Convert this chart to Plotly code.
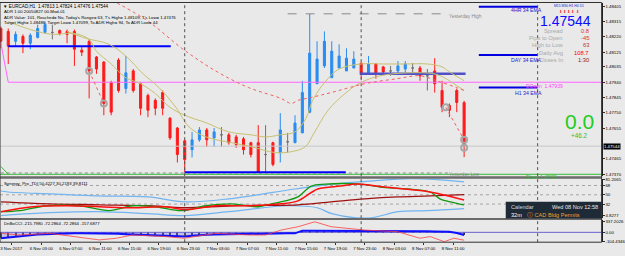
import plotly.graph_objects as go

W, H = 625, 256

# ---------------- main price data (EURCAD H1) ----------------
bar_index = list(range(64))
opens = [1.48271,1.48253,1.48192,1.48222,1.48180,1.48216,1.48247,1.48247,1.48259,1.48253,
         1.48253,1.48137,1.48192,1.48095,1.48064,1.47936,1.48076,1.47900,1.48009,1.47930,
         1.47857,1.47827,1.47875,1.47717,1.47656,1.47577,1.47522,1.47583,1.47644,1.47595,
         1.47614,1.47614,1.47601,1.47589,1.47565,1.47565,1.47492,1.47565,1.47504,1.47571,
         1.47565,1.47626,1.47754,1.47930,1.48040,1.47967,1.48027,1.48009,1.48027,1.48058,
         1.47997,1.48052,1.48034,1.48009,1.48009,1.48021,1.48027,1.48027,1.47979,1.48009,
         1.47888,1.47796,1.47888,1.47813]
highs = [1.48283,1.48271,1.48253,1.48235,1.48241,1.48295,1.48314,1.48295,1.48265,1.48265,
         1.48265,1.48162,1.48204,1.48101,1.48070,1.47948,1.48088,1.48101,1.48021,1.47936,
         1.47869,1.47839,1.47888,1.47723,1.47662,1.47583,1.47632,1.47662,1.47656,1.47656,
         1.47662,1.47626,1.47614,1.47601,1.47571,1.47674,1.47674,1.47571,1.47748,1.47626,
         1.47735,1.47948,1.48362,1.48192,1.48253,1.48192,1.48174,1.48149,1.48131,1.48058,
         1.48101,1.48058,1.48040,1.48040,1.48070,1.48070,1.48058,1.48040,1.48021,1.48088,
         1.47948,1.47808,1.47900,1.47824]
lows = [1.48149,1.48052,1.48162,1.48119,1.48143,1.48210,1.48241,1.48204,1.48229,1.48180,
        1.48040,1.48101,1.47839,1.47991,1.47735,1.47735,1.47875,1.47869,1.47875,1.47735,
        1.47723,1.47735,1.47735,1.47583,1.47443,1.47382,1.47474,1.47571,1.47540,1.47540,
        1.47540,1.47553,1.47534,1.47492,1.47474,1.47378,1.47382,1.47419,1.47443,1.47504,
        1.47565,1.47626,1.47748,1.47930,1.48027,1.47967,1.48027,1.48009,1.48027,1.47961,
        1.47991,1.47961,1.47991,1.47979,1.47991,1.47991,1.47997,1.47948,1.47888,1.47875,
        1.47754,1.47723,1.47754,1.47476]
closes = [1.48192,1.48162,1.48235,1.48180,1.48229,1.48271,1.48295,1.48247,1.48241,1.48235,
          1.48143,1.48125,1.48009,1.48021,1.47808,1.47754,1.47888,1.47997,1.47888,1.47778,
          1.47766,1.47778,1.47778,1.47595,1.47492,1.47461,1.47583,1.47644,1.47583,1.47632,
          1.47614,1.47565,1.47553,1.47522,1.47492,1.47382,1.47492,1.47431,1.47644,1.47571,
          1.47687,1.47875,1.48119,1.48082,1.48192,1.48131,1.48101,1.48088,1.48082,1.47997,
          1.48052,1.47997,1.48003,1.48009,1.48040,1.48052,1.48027,1.47979,1.47979,1.47930,
          1.47784,1.47766,1.47814,1.47544]
gray_bars = [7, 30, 36, 39, 53, 56, 58]

# moving averages (bar, price)
ma_fast_bars = [1, 4, 7, 10, 12, 13, 15, 17, 19, 21, 23, 25, 28, 31, 34, 36, 38, 40, 41.5, 42.4, 44, 46, 49, 52, 55, 58, 60, 61, 63]
ma_fast_vals = [1.48314, 1.48265, 1.48235, 1.48241, 1.48204, 1.48131, 1.48052, 1.47967, 1.47930, 1.47869, 1.47784,
                1.47735, 1.47687, 1.47632, 1.47614, 1.47601, 1.47614, 1.47632, 1.47717, 1.47827, 1.47936, 1.48021,
                1.48052, 1.48052, 1.48052, 1.48052, 1.48034, 1.48003, 1.47948]
ma_slow_bars = [9, 11.6, 14.7, 17, 19.2, 21.5, 23.8, 25.6, 27.9, 31.4, 34.1, 37.3, 39.5, 41.4, 42.6, 44.5, 46.8,
                48.9, 51.6, 55.3, 58.9, 60.3, 62, 63]
ma_slow_vals = [1.48253, 1.48210, 1.48174, 1.48101, 1.47997, 1.47906, 1.47784, 1.47662, 1.47601, 1.47565, 1.47540,
                1.47504, 1.47510, 1.47540, 1.47626, 1.47766, 1.47869, 1.47936, 1.47979, 1.47997, 1.47991, 1.47967,
                1.47918, 1.47888]
ma_long_bars = [15.8, 20.1, 24.6, 29.2, 33.7, 38.1, 39.5, 40.4, 42.2, 44.9, 49.5, 53.9, 57, 59.3, 62, 63]
ma_long_vals = [1.48429, 1.48314, 1.48149, 1.48009, 1.47906, 1.47839, 1.47808, 1.47827, 1.47845, 1.47875, 1.47930,
                1.47961, 1.47979, 1.47948, 1.47906, 1.47888]

# swing points (zigzag)
swing_bars = [12, 14, 60.5, 63, 63]
swing_vals = [1.48009, 1.47808, 1.47784, 1.47583, 1.47534]

# levels
daily_open = 1.47939
yest_high = 1.48362
yest_low = 1.47378
green_level = 1.47370
bid = 1.47544
ema_4h, ema_day, ema_h1 = 1.48405, 1.48107, 1.47906
session_hi = 1.48162
session_lo = 1.47382
range_mid = 1.47991

price_ticks = [1.48405, 1.48315, 1.48220, 1.48125, 1.48035, 1.47940, 1.47845, 1.47750, 1.47655, 1.47465, 1.47370]

time_ticks = [1.4, 5.5, 9.5, 13.5, 17.5, 21.5, 25.5, 29.5, 33.5, 37.5, 41.5, 45.5, 49.5, 53.5, 57.5, 61.5]
time_labels = ["3 Nov 2017", "6 Nov 03:00", "6 Nov 07:00", "6 Nov 11:00", "6 Nov 15:00", "6 Nov 19:00",
               "6 Nov 23:00", "7 Nov 03:00", "7 Nov 07:00", "7 Nov 11:00", "7 Nov 15:00", "7 Nov 19:00",
               "7 Nov 23:00", "8 Nov 03:00", "8 Nov 07:00", "8 Nov 11:00"]
day_sep_bars = [25, 49, 73]

# ---------------- Synergy TDI ----------------
tdi_up_bars = [0, 1, 7, 13, 20, 25, 31, 40, 45, 50, 56, 63]
tdi_up_vals = [57.3, 55.4, 51.6, 47.8, 45.9, 36.3, 42.1, 61.2, 70.7, 76.4, 81.2, 75.1]
tdi_lo_bars = [0, 4, 13, 20, 25, 31, 39, 43, 45, 50, 54, 58, 63]
tdi_lo_vals = [9.6, 13.4, 17.2, 13.4, 9.6, 17.2, 28.7, 24.9, 13.4, 4.83, 17.2, 19.2, 23.0]
tdi_green_bars = [0, 2.6, 6.2, 10.7, 14.7, 17.9, 21.1, 24.6, 27.9, 31.4, 35, 36.8, 38.7, 40.4, 42.2, 44.1, 48.9,
                  51.6, 55.3, 58.4, 59.7, 61.1, 63]
tdi_green_vals = [17.2, 19.2, 28.7, 28.7, 19.2, 28.7, 26.8, 19.2, 28.7, 32.5, 26.8, 32.5, 38.2, 45.9, 66.9, 70.7,
                  70.7, 65.0, 61.2, 55.4, 42.1, 36.3, 30.22]
tdi_red_bars = [0, 4.3, 8.9, 13.4, 17.9, 22.4, 25.1, 29.2, 33.7, 38.1, 40.4, 43.1, 46.2, 48.5, 52.2, 57.6, 59.7, 63]
tdi_red_vals = [17.2, 26.8, 28.7, 26.8, 24.9, 26.8, 21.1, 28.7, 28.7, 32.5, 38.2, 61.2, 66.9, 70.7, 65.0, 57.3,
                51.6, 39.81]
tdi_base_bars = [0, 6.6, 13.4, 20.2, 24.9, 31.4, 40.4, 44.9, 49.5, 53.9, 58.4, 63]
tdi_base_vals = [36.3, 32.5, 30.6, 28.7, 24.9, 28.7, 30.6, 36.3, 42.1, 45.9, 47.8, 50.42]
tdi_levels = [68, 50, 32]

# ---------------- CCI pane ----------------
cci_blue = [-162, -140, -116, -100, -73, -60, -50, -40, -30, -27, -27, -27, -27, -27, -30, -35,
            -40, -50, -60, -70, -80, -90, -100, -108, -116, -116, -95, -73, -65, -60, -55, -50,
            -45, -40, -38, -35, -33, -31, -30, -28, -27, 46, 46, 46, 46, 46, 46, 46,
            46, 46, 46, 46, 46, 46, 46, 46, 40, 35, 30, 25, 22, 19, -20, -72.29]
cci_red_bars = [0, 2.6, 6.6, 10.3, 13.4, 15.7, 17.9, 22.4, 24.9, 29.2, 33.7, 36, 38.1, 40.4, 42.7, 44.9, 49.5,
                53.9, 57, 58.4, 60.3, 61.6, 63]
cci_red_vals = [-27, -73, -27, -116, -208, -162, -73, -116, -162, -27, -73, -73, 62, 154, 289, 154, 62, 19, -162,
                -116, -256, -162, -215.80]

fig = go.Figure()

# ---------- main pane ----------
main_idx = [i for i in bar_index if i not in gray_bars]
fig.add_trace(go.Candlestick(
    x=main_idx, open=[opens[i] for i in main_idx], high=[highs[i] for i in main_idx],
    low=[lows[i] for i in main_idx], close=[closes[i] for i in main_idx],
    increasing=dict(line=dict(color="#2a8cf0", width=1), fillcolor="#2a8cf0"),
    decreasing=dict(line=dict(color="#ff1a1a", width=1), fillcolor="#ff1a1a"),
    whiskerwidth=0, hoverinfo="skip", xaxis="x", yaxis="y"))
fig.add_trace(go.Candlestick(
    x=gray_bars, open=[opens[i] for i in gray_bars], high=[highs[i] for i in gray_bars],
    low=[lows[i] for i in gray_bars], close=[closes[i] for i in gray_bars],
    increasing=dict(line=dict(color="#707070", width=1), fillcolor="#707070"),
    decreasing=dict(line=dict(color="#707070", width=1), fillcolor="#707070"),
    whiskerwidth=0, hoverinfo="skip", xaxis="x", yaxis="y"))

x_left, x_right = -0.9 / 7.4, (605.5 - 0.9) / 7.4


def hline(y, x0, x1, color, width, dash="solid", yaxis="y"):
    fig.add_trace(go.Scatter(x=[x0, x1], y=[y, y], mode="lines", yaxis=yaxis,
                             line=dict(color=color, width=width, dash=dash), hoverinfo="skip"))


hline(bid, x_left, x_right, "#c8c8c8", 1)
hline(green_level, x_left, x_right, "#33bb33", 1)
fig.add_trace(go.Scatter(x=[0, 1], y=[1.47418, green_level], mode="lines", line=dict(color="#33bb33", width=1)))
hline(yest_low, 0, 61, "#8a8a8a", 1, "dot")
hline(yest_high, 39, 61, "#8a8a8a", 1, "dash")
hline(daily_open, 1, x_right, "#ff66ff", 1.2)
fig.add_trace(go.Scatter(x=[0, 1], y=[1.48180, daily_open], mode="lines", line=dict(color="#ff66ff", width=1)))
hline(session_hi, 1, 23.1, "#0000ff", 2)
hline(session_lo, 25, 46.9, "#0000ff", 2)
hline(range_mid, 48.8, 63.2, "#5050c8", 2.5)
for lvl in (ema_4h, ema_day, ema_h1):
    hline(lvl, 65, 73, "#0000e0", 2)

fig.add_trace(go.Scatter(x=ma_fast_bars, y=ma_fast_vals, mode="lines",
                         line=dict(color="#c8c070", width=1, shape="spline")))
fig.add_trace(go.Scatter(x=ma_slow_bars, y=ma_slow_vals, mode="lines",
                         line=dict(color="#c8c070", width=1, shape="spline")))
fig.add_trace(go.Scatter(x=ma_long_bars, y=ma_long_vals, mode="lines",
                         line=dict(color="#f06060", width=1, dash="dot", shape="spline")))
fig.add_trace(go.Scatter(x=swing_bars[:2], y=swing_vals[:2], mode="lines",
                         line=dict(color="#f06060", width=1, dash="dot")))
fig.add_trace(go.Scatter(x=swing_bars[2:4], y=swing_vals[2:4], mode="lines",
                         line=dict(color="#f06060", width=1, dash="dot")))
fig.add_trace(go.Scatter(x=swing_bars, y=swing_vals, mode="markers",
                         marker=dict(symbol="circle-open", size=6, color="#a8a8a8", line=dict(width=2))))

# ---------- TDI pane ----------
for lv in tdi_levels:
    hline(lv, x_left, x_right, "#909090", 0.8, "dot", "y2")
fig.add_trace(go.Scatter(x=tdi_up_bars, y=tdi_up_vals, yaxis="y2", mode="lines",
                         line=dict(color="#70b4f0", width=1.2, shape="spline")))
fig.add_trace(go.Scatter(x=tdi_lo_bars, y=tdi_lo_vals, yaxis="y2", mode="lines",
                         line=dict(color="#70b4f0", width=1.2, shape="spline")))
fig.add_trace(go.Scatter(x=tdi_base_bars, y=tdi_base_vals, yaxis="y2", mode="lines",
                         line=dict(color="#a01010", width=1.3, shape="spline")))
fig.add_trace(go.Scatter(x=tdi_green_bars, y=tdi_green_vals, yaxis="y2", mode="lines",
                         line=dict(color="#119911", width=1.3, shape="spline")))
fig.add_trace(go.Scatter(x=tdi_red_bars, y=tdi_red_vals, yaxis="y2", mode="lines",
                         line=dict(color="#ff1010", width=1.5, shape="spline")))

# ---------- CCI pane ----------
hline(0, x_left, x_right, "#6a60d0", 1, "solid", "y3")
fig.add_trace(go.Bar(x=bar_index, y=cci_blue, yaxis="y3", width=0.15,
                     marker=dict(color="#303040", line=dict(width=0))))
fig.add_trace(go.Scatter(x=bar_index, y=cci_blue, yaxis="y3", mode="lines", fill="tozeroy",
                         fillcolor="rgba(120,120,230,0.35)", line=dict(color="#1010ff", width=2)))
fig.add_trace(go.Scatter(x=cci_red_bars, y=cci_red_vals, yaxis="y3", mode="lines",
                         line=dict(color="#ff4040", width=0.8)))

# vertical separators
shapes = []
for b in day_sep_bars:
    shapes.append(dict(type="line", xref="x", yref="paper", x0=b, x1=b, y0=1 - 244 / H, y1=1,
                       line=dict(color="#505050", width=1, dash="dot")))


def py(p):
    return 1 - p / H


def px(p):
    return p / W


XR = 605.5 / W
# pane separators and borders
for top, bot in ((177, 179.5), (219.5, 221.5)):
    shapes.append(dict(type="rect", xref="paper", yref="paper", x0=0, x1=XR, y0=py(bot), y1=py(top),
                       fillcolor="#6a6a6a", line=dict(width=0)))
shapes.append(dict(type="rect", xref="paper", yref="paper", x0=0, x1=XR, y0=py(244), y1=py(0.5),
                   fillcolor="rgba(0,0,0,0)", line=dict(color="#303030", width=1)))
# calendar box
shapes.append(dict(type="rect", xref="paper", yref="paper", x0=px(509), x1=XR, y0=py(220), y1=py(203),
                   fillcolor="#1e2a36", line=dict(color="#1e2a36", width=0)))

FONT = "Liberation Sans, Arial, sans-serif"
anns = []


def ann(x, y, text, size, color, xa="left", ya="middle", xref="paper", yref="paper", bg=None, **kw):
    d = dict(x=x, y=y, xref=xref, yref=yref, text=text, showarrow=False, xanchor=xa, yanchor=ya,
             font=dict(family=FONT, size=size, color=color), borderpad=0)
    if bg:
        d["bgcolor"] = bg
    d.update(kw)
    anns.append(d)


# header
ann(px(2), py(4.7), "▼ EURCAD,H1  1.47813 1.47824 1.47476 1.47544", 4.6, "#000000")
ann(px(3), py(10), "ADR 1.00 20050827 00-Mod-01", 4.3, "#000000")
ann(px(3), py(15.3), "ADR Value: 101, Reached= No, Today's Range= 63, T's High= 1.48109, T's Low= 1.47476", 4.3, "#000000")
ann(px(3), py(21), "Target High= 1.48486, Target Low= 1.47099, To ADR High= 94, To ADR Low= 44", 4.3, "#000000")
ann(px(451), py(14.5), "Yesterday High", 4.8, "#8a8a8a")
ann(px(451), py(175.5), "Yesterday Low", 4.6, "#8a8a8a")

# EMA labels
ann(px(547), py(8.5), "4HR 34 EMA", 5.2, "#2020d0", xa="right")
ann(px(546), py(58.5), "DAY 34 EMA", 5.2, "#2020d0", xa="right")
ann(px(546), py(92), "H1 34 EMA", 5.2, "#2020d0", xa="right")
ann(px(528), py(85), "DOpen  1.47939", 5, "#ff40ff")
ann(px(528), py(178.5), "DLow  1.47370", 4.6, "#33bb33")

# info block
ann(px(573), py(4.5), "M15 M30 H1 H4 D1", 3.4, "#2020d0", xa="center")
ann(px(573), py(9.2), "⬇ ⬇ ⬇ ⬇ ⬇", 4.2, "#ff2020", xa="center")
ann(px(596), py(19.5), "1.47544", 14, "#0a0aff", xa="right")
rows = [("Spread", "0.8", "#e03030"), ("Pips to Open", "-45", "#e03030"), ("High to Low", "63", "#c03030"),
        ("Daily Avg", "108.7", "#ff0000"), ("Closes In", "1:30", "#902020")]
for k, (lab, val, col) in enumerate(rows):
    yy = 29.5 + 7.3 * k
    ann(px(568), py(yy), lab, 5.8, "#a8a8a8", xa="right")
    ann(px(594), py(yy), val, 5.8, col, xa="right")
ann(px(583), py(121), "0.0", 21, "#22cc22", xa="center")
ann(px(583), py(135.5), "+46.2", 6.3, "#33bb33", xa="center")

# calendar
ann(px(513), py(208), "Calendar", 5.6, "#d8d8d8")
ann(px(603), py(208), "Wed 08 Nov 12:58", 5.6, "#e8e8e8", xa="right")
ann(px(513), py(216), "32m", 5.6, "#ffffff")
ann(px(529), py(216), "ⓘ CAD Bldg Permits", 5.6, "#f0a030")

# pane titles
ann(px(3), py(184), "Synergy_Pro_TDI 50.4227 30.2193 39.8111", 4.3, "#000000")
ann(px(3), py(225.5), "DnBoCCI -215.7980 -72.2864 -72.2864 -157.6877", 4.3, "#000000")

# current price box
ann(1.0, bid, "1.47544", 4.3, "#ffffff", xa="right", yref="y", bg="#000000")

fig.update_layout(
    width=W, height=H, margin=dict(l=0, r=0, t=0, b=0),
    paper_bgcolor="#e9e9e9", plot_bgcolor="#e9e9e9",
    showlegend=False, boxgap=0.6, bargap=0,
    shapes=shapes, annotations=anns,
    xaxis=dict(domain=[0, XR], range=[x_left, x_right], anchor="y3", showgrid=False, zeroline=False,
               tickvals=time_ticks, ticktext=time_labels, ticks="outside", ticklen=2, tickcolor="#303030",
               tickfont=dict(family=FONT, size=4.3, color="#000000"), rangeslider=dict(visible=False),
               ticklabeloverflow="allow", showline=False),
    yaxis=dict(domain=[py(177), py(1)], range=[1.47358, 1.48429], side="right", anchor="x",
               showgrid=False, zeroline=False, tickvals=price_ticks, tickformat=".5f", ticks="outside",
               ticklen=2, tickcolor="#303030", tickfont=dict(family=FONT, size=4.3, color="#000000"),
               showline=True, linecolor="#202020"),
    yaxis2=dict(domain=[py(219.5), py(179.5)], range=[4.8277, 81.2065], side="right", anchor="x",
                showgrid=False, zeroline=False, tickvals=[80.0, 68, 50, 32, 9.0],
                ticktext=["81.2065", "68", "50", "32", "4.8277"], ticks="outside", ticklen=2,
                tickcolor="#303030", tickfont=dict(family=FONT, size=4.3, color="#000000"),
                showline=True, linecolor="#202020"),
    yaxis3=dict(domain=[py(244), py(221.5)], range=[-270, 337.2], side="right", anchor="x",
                showgrid=False, zeroline=False, tickvals=[300, 0, -243],
                ticktext=["337.2026", "0.00", "-104.4346"], ticks="outside", ticklen=2,
                tickcolor="#303030", tickfont=dict(family=FONT, size=4.3, color="#000000"),
                showline=True, linecolor="#202020"),
)
fig.write_html("out.html")
